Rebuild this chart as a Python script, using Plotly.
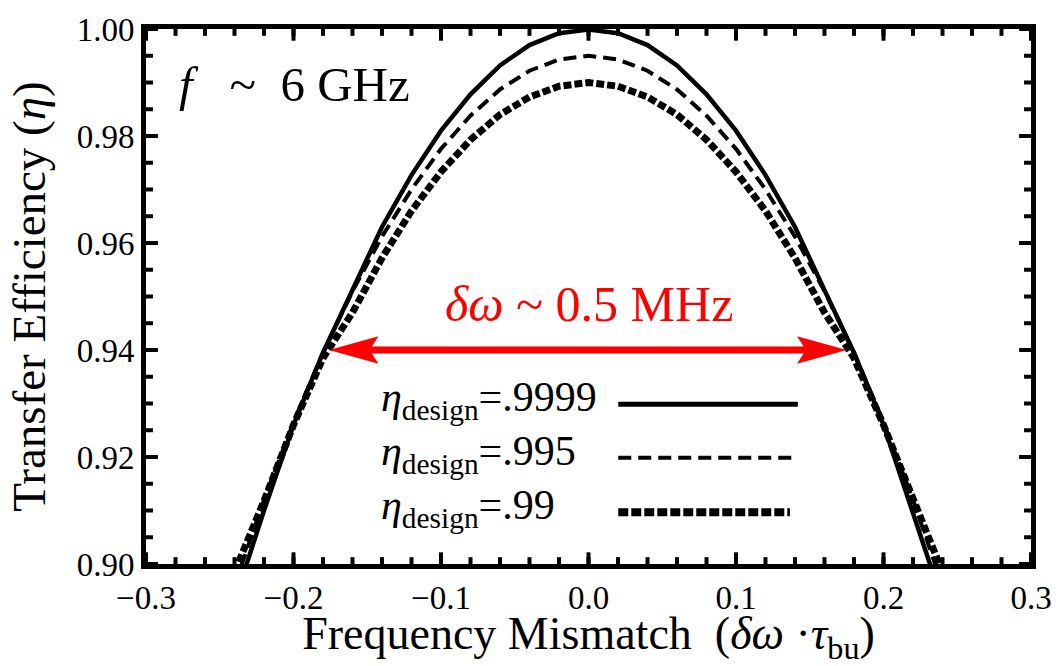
import numpy as np
import plotly.graph_objects as go

# Frequency mismatch (delta-omega * tau_bu) sample points
mismatch = [-0.24, -0.22, -0.20, -0.18, -0.16, -0.14, -0.12, -0.10, -0.08, -0.06, -0.04, -0.02,
            0.00, 0.02, 0.04, 0.06, 0.08, 0.10, 0.12, 0.14, 0.16, 0.18, 0.20, 0.22, 0.24]

# Transfer efficiency for each design target (x >= 0 half, curves are symmetric)
eta_9999_half = [0.9999, 0.9992, 0.9970, 0.9932, 0.9878, 0.9810, 0.9727, 0.9630, 0.9512, 0.9395, 0.9260, 0.9100, 0.8930]
eta_995_half = [0.9950, 0.9943, 0.9922, 0.9887, 0.9838, 0.9776, 0.9700, 0.9612, 0.9510, 0.9395, 0.9265, 0.9120, 0.8960]
eta_99_half = [0.9900, 0.9893, 0.9873, 0.9840, 0.9793, 0.9733, 0.9660, 0.9572, 0.9470, 0.9385, 0.9260, 0.9118, 0.8985]

def mirrored(half):
    return half[:0:-1] + half

eta_9999 = mirrored(eta_9999_half)
eta_995 = mirrored(eta_995_half)
eta_99 = mirrored(eta_99_half)

series_labels = [".9999", ".995", ".99"]
series_styles = [dict(width=4.5, dash="solid"),
                 dict(width=4, dash="13px,7px"),
                 dict(width=7, dash="8px,3px")]
legend_styles = [dict(width=5, dash="solid"),
                 dict(width=4, dash="13px,7px"),
                 dict(width=8, dash="10px,3px")]

# Bandwidth marker
span_level = 0.94
span_ends = [-0.176, 0.175]

x_range = [-0.3, 0.3]
y_range = [0.90, 1.00]
x_major, x_minor = 0.1, 0.02
y_major, y_minor = 0.02, 0.005

W, H = 1064, 666
ML, MR, MT, MB = 146, 26, 15, 102
PW, PH = W - ML - MR, H - MT - MB

FONT = "Liberation Serif, Times New Roman, serif"
NB = "\u00a0"

dx = (x_range[1] - x_range[0]) / PW
dy = (y_range[1] - y_range[0]) / PH

fig = go.Figure()
for ys, style in zip([eta_9999, eta_995, eta_99], series_styles):
    fig.add_trace(go.Scatter(x=mismatch, y=ys, mode="lines",
                             line=dict(color="black", **style),
                             showlegend=False, hoverinfo="skip"))

# Inward frame ticks on all four sides (major and minor), drawn as one segmented line trace
def frame_tick_segments(step, length):
    tx, ty = [], []
    for v in np.round(np.arange(x_range[0], x_range[1] + step / 2, step), 6):
        tx += [v, v, None, v, v, None]
        ty += [y_range[0], y_range[0] + length * dy, None,
               y_range[1], y_range[1] - length * dy, None]
    return tx, ty

def frame_tick_segments_y(step, length):
    tx, ty = [], []
    for v in np.round(np.arange(y_range[0], y_range[1] + step / 2, step), 6):
        tx += [x_range[0], x_range[0] + length * dx, None,
               x_range[1], x_range[1] - length * dx, None]
        ty += [v, v, None, v, v, None]
    return tx, ty

tick_x, tick_y = [], []
for seg in (frame_tick_segments(x_minor, 7), frame_tick_segments(x_major, 12),
            frame_tick_segments_y(y_minor, 7), frame_tick_segments_y(y_major, 12)):
    tick_x += seg[0]
    tick_y += seg[1]
fig.add_trace(go.Scatter(x=tick_x, y=tick_y, mode="lines", connectgaps=False,
                         line=dict(color="black", width=4), cliponaxis=False,
                         showlegend=False, hoverinfo="skip"))

shapes = []

# Double-headed red arrow: shaft plus two notched heads
head_len, head_half, notch = 50, 14, 9
shapes.append(dict(type="line", xref="x", yref="y",
                   x0=span_ends[0] + (head_len - notch) * dx, x1=span_ends[1] - (head_len - notch) * dx,
                   y0=span_level, y1=span_level, line=dict(color="#ff0000", width=7)))
for tip, sgn in [(span_ends[0], 1), (span_ends[1], -1)]:
    bx = tip + sgn * head_len * dx
    nx = tip + sgn * (head_len - notch) * dx
    path = (f"M {tip},{span_level} L {bx},{span_level + head_half * dy} "
            f"L {nx},{span_level} L {bx},{span_level - head_half * dy} Z")
    shapes.append(dict(type="path", xref="x", yref="y", path=path,
                       fillcolor="#ff0000", line=dict(color="#ff0000", width=0)))

# Key: sample lines drawn beside each label
def px_x(p):
    return (p - ML) / PW

def px_y(p):
    return (H - MB - p) / PH

key_rows = [400, 455, 511]
key_ends = [(622, 803), (622, 803), (622, 795)]
annotations = []
for row, (a, b), style, lab in zip(key_rows, key_ends, legend_styles, series_labels):
    shapes.append(dict(type="line", xref="paper", yref="paper",
                       x0=px_x(a), x1=px_x(b), y0=px_y(row), y1=px_y(row),
                       line=dict(color="black", **style)))
    annotations.append(dict(xref="paper", yref="paper", x=px_x(381), y=px_y(row - 4),
                            xanchor="left", yanchor="middle", showarrow=False,
                            text=f"<i>η</i><sub>design</sub>={lab}",
                            font=dict(family=FONT, size=42, color="black")))

annotations.append(dict(xref="paper", yref="paper", x=px_x(177), y=px_y(72),
                        xanchor="left", yanchor="middle", showarrow=False,
                        text=f"<i>f</i>{NB*3}~{NB*2}6{NB}GHz",
                        font=dict(family=FONT, size=49, color="black")))
annotations.append(dict(xref="x", yref="paper", x=0.0, y=px_y(297),
                        xanchor="center", yanchor="middle", showarrow=False,
                        text="<i>δω</i> ~ 0.5 MHz",
                        font=dict(family=FONT, size=50, color="#ff0000")))

label_font = dict(family=FONT, size=33, color="black")

fig.update_layout(
    width=W, height=H,
    margin=dict(l=ML, r=MR, t=MT, b=MB),
    paper_bgcolor="white", plot_bgcolor="white",
    xaxis=dict(range=x_range, dtick=x_major, tickformat=".1f",
               showline=True, linecolor="black", linewidth=5, mirror=True,
               showgrid=False, zeroline=False, ticks="",
               tickfont=label_font, ticklabeloverflow="allow",
               title=dict(text="Frequency Mismatch  (<i>δω</i> ·<i>τ</i><sub>bu</sub>)",
                          font=dict(family=FONT, size=46, color="black"), standoff=3)),
    yaxis=dict(range=y_range, dtick=y_major, tickformat=".2f",
               showline=True, linecolor="black", linewidth=5, mirror=True,
               showgrid=False, zeroline=False, ticks="",
               tickfont=label_font, ticklabeloverflow="allow",
               title=dict(text="Transfer Efficiency (<i>η</i>)",
                          font=dict(family=FONT, size=47, color="black"), standoff=18)),
    shapes=shapes,
    annotations=annotations,
    showlegend=False,
)

fig.write_html("out.html")
